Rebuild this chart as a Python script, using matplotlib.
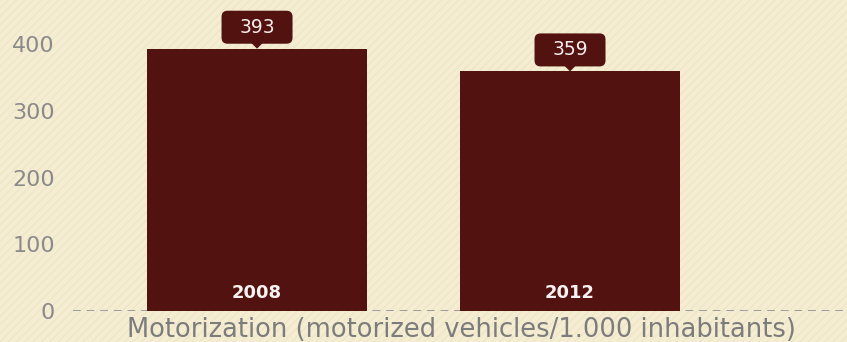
import matplotlib
matplotlib.use("Agg")
import matplotlib.pyplot as plt
import matplotlib.transforms as mtransforms
from matplotlib.patches import FancyBboxPatch, Polygon, Rectangle

years = ["2008", "2012"]
values = [393, 359]
yticks = [0, 100, 200, 300, 400]
xlabel = "Motorization (motorized vehicles/1.000 inhabitants)"

BG = "#F5EDD2"
BAR = "#521310"
GREY = "#8A8A8A"

plt.rcParams['font.family'] = ['DejaVu Sans']

fig = plt.figure(figsize=(8.47, 3.42), dpi=100)
fig.patch.set_facecolor(BG)
# faint diagonal texture of the background
fig.patches.append(Rectangle((0, 0), 1, 1, transform=fig.transFigure, facecolor=BG,
                             edgecolor="#EFE6C8", lw=0, hatch="////", zorder=-10))

ax = fig.add_axes([73 / 847, 31 / 342, 1 - 73 / 847, 311 / 342])
ax.set_facecolor("none")

x = list(range(len(values)))
ax.bar(x, values, width=0.703, color=BAR, zorder=2)
ax.axhline(0, color="#9C9C9C", lw=1.4, ls=(0, (4, 3)), zorder=1)

ax.set_xlim(-0.588, 1.885)
ax.set_ylim(0, 466)
ax.set_yticks(yticks)
ax.set_xticks([])
ax.tick_params(axis="y", length=0, pad=13, labelsize=16, labelcolor=GREY)
for s in ax.spines.values():
    s.set_visible(False)

for xi, v, yr in zip(x, values, years):
    trans = fig.dpi_scale_trans + mtransforms.ScaledTranslation(xi, v, ax.transData)
    box = FancyBboxPatch((-0.305, 0.10), 0.61, 0.23, boxstyle="round,pad=0.05,rounding_size=0.06",
                         transform=trans, facecolor=BAR, edgecolor="none", clip_on=False, zorder=3)
    ax.add_patch(box)
    tri = Polygon([(-0.06, 0.06), (0.06, 0.06), (0, 0.0)], closed=True, transform=trans,
                  facecolor=BAR, edgecolor="none", clip_on=False, zorder=3)
    ax.add_patch(tri)
    ax.text(0, 0.215, str(v), transform=trans, ha="center", va="center",
            color="#F7ECEC", fontsize=13.5, zorder=4)
    base = fig.dpi_scale_trans + mtransforms.ScaledTranslation(xi, 0, ax.transData)
    ax.text(0, 0.18, yr, transform=base, ha="center", va="center",
            color="#F7F2F2", fontsize=13, fontweight="bold", zorder=4)

fig.text(461 / 847, 12 / 342, xlabel, ha="center", va="center", color="#7C7C7C", fontsize=18.5)

fig.savefig("out.png", dpi=100, facecolor=BG)
